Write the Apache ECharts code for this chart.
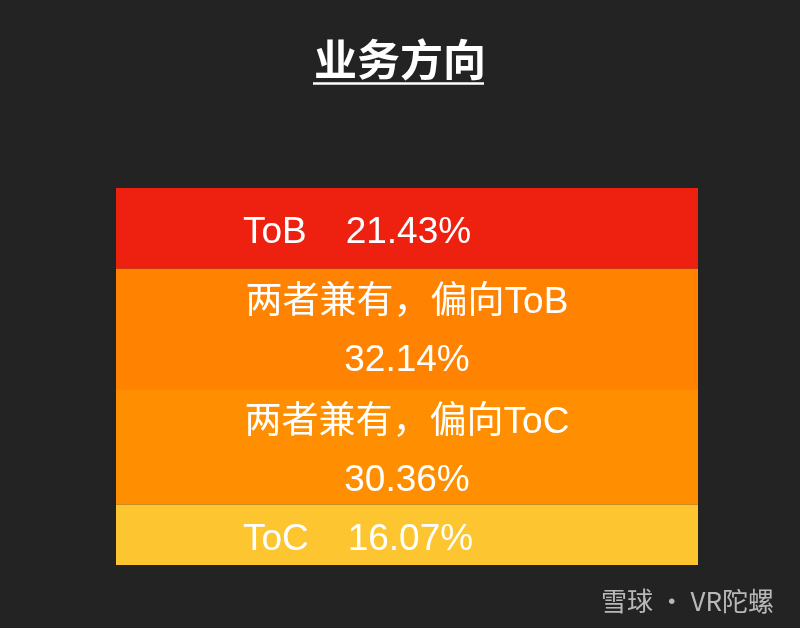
<!DOCTYPE html>
<html>
<head>
<meta charset="utf-8">
<script src="https://cdn.jsdelivr.net/npm/echarts@6/dist/echarts.min.js"></script>
<style>
html,body{margin:0;padding:0;background:#232323;}
#c{width:800px;height:628px;}
</style>
</head>
<body>
<div id="c"></div>
<script>
var titleText = '业务方向';
var categories = ['ToB', '两者兼有，偏向ToB', '两者兼有，偏向ToC', 'ToC'];
var shares = [21.43, 32.14, 30.36, 16.07];
var colors = ['#EE2110', '#FF8300', '#FF8F00', '#FDC630'];
var watermark = '雪球 · VR陀螺';

var FONT = '"Liberation Sans", "Noto Sans CJK SC", sans-serif';
var labelShift = [4, 2, 5, 5];

var series = categories.map(function (name, i) {
  var twoLine = name.length > 4;
  var label = twoLine ? {
    show: true,
    position: 'inside',
    align: 'center',
    verticalAlign: 'middle',
    offset: [0, labelShift[i]],
    color: '#fff',
    fontSize: 37,
    fontFamily: FONT,
    lineHeight: 58,
    formatter: function (p) { return p.seriesName + '\n' + p.value.toFixed(2) + '%'; }
  } : {
    show: true,
    position: ['21.8%', '50%'],
    align: 'left',
    verticalAlign: 'middle',
    offset: [0, labelShift[i]],
    color: '#fff',
    fontSize: 37,
    fontFamily: FONT,
    formatter: function (p) { return '{n|' + p.seriesName + '}{v|' + p.value.toFixed(2) + '%}'; },
    rich: {
      n: { color: '#fff', fontSize: 37, fontFamily: FONT },
      v: { color: '#fff', fontSize: 37, fontFamily: FONT, padding: [0, 0, 0, 39] }
    }
  };
  return {
    name: name,
    type: 'bar',
    stack: 'all',
    barWidth: '100%',
    data: [shares[i]],
    itemStyle: { color: colors[i] },
    label: label,
    silent: true
  };
});

var chart = echarts.init(document.getElementById('c'));
chart.setOption({
  backgroundColor: '#232323',
  animation: false,
  title: {
    text: titleText,
    left: 'center',
    top: 30,
    textStyle: { color: '#fff', fontSize: 43, fontWeight: 'bold', fontFamily: '"Noto Sans CJK SC", sans-serif', lineHeight: 50 }
  },
  grid: { left: 116, right: 102, top: 188, bottom: 63 },
  xAxis: { type: 'category', data: ['业务方向'], show: false },
  yAxis: { type: 'value', min: 0, max: 100, inverse: true, show: false },
  series: series,
  graphic: [
    { type: 'line', shape: { x1: 313, y1: 83.5, x2: 484, y2: 83.5 }, style: { stroke: '#fff', lineWidth: 2.5 } },
    { type: 'text', right: 26, bottom: 14, style: { text: watermark, fill: 'rgba(210,210,210,0.85)', fontSize: 26, fontFamily: '"Noto Sans CJK SC", sans-serif' } }
  ]
});
</script>
</body>
</html>
